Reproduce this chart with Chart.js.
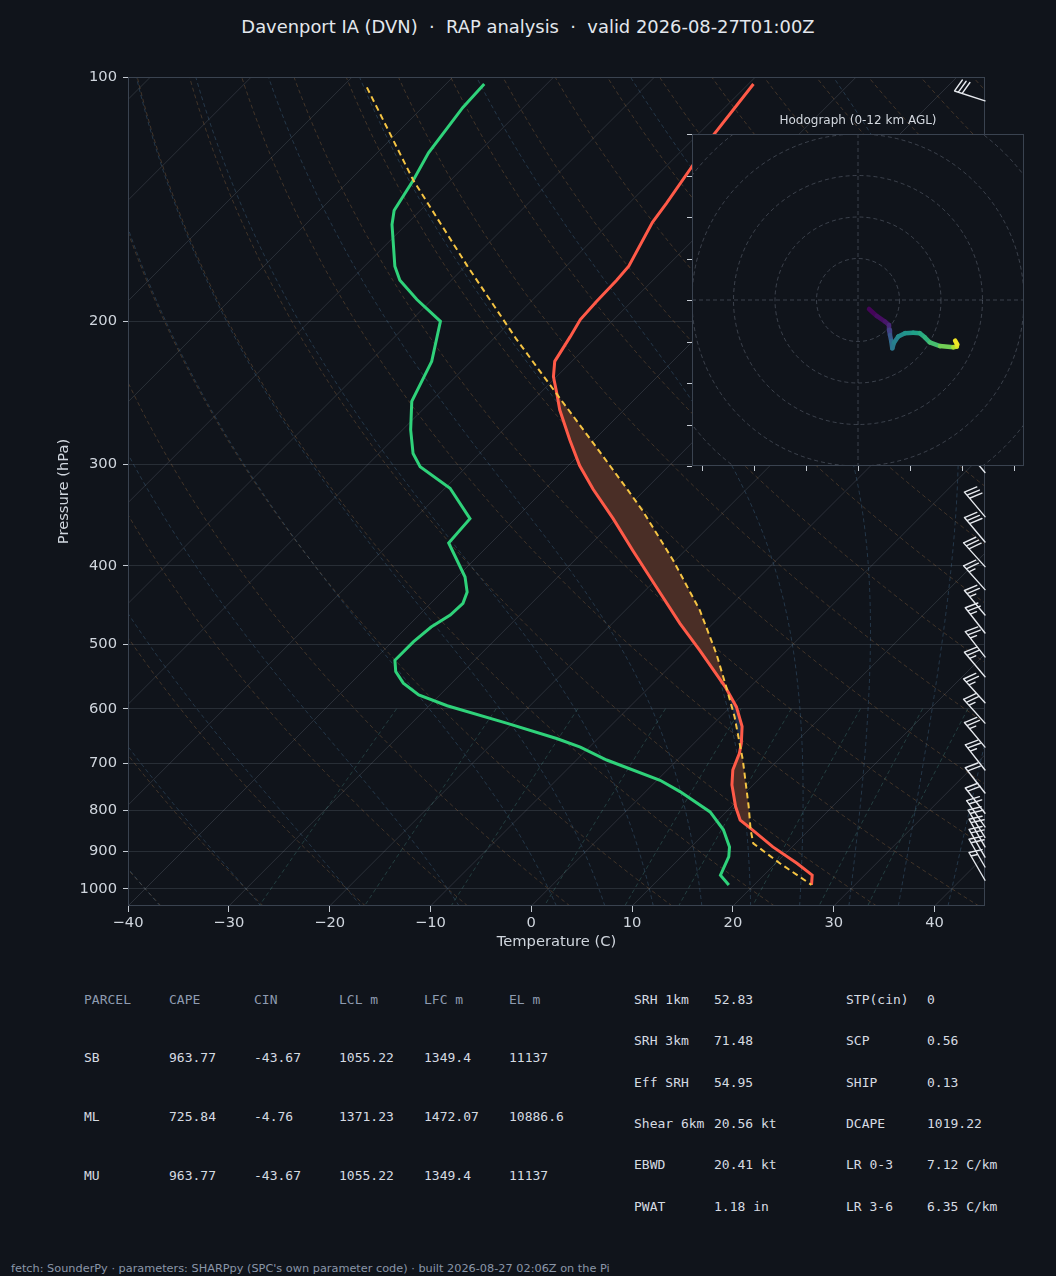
<!DOCTYPE html>
<html><head><meta charset="utf-8">
<script src="https://cdn.jsdelivr.net/npm/chart.js@4.4.1/dist/chart.umd.min.js"></script>
<style>
html,body{margin:0;padding:0;background:#10141b;}
body{width:1056px;height:1276px;position:relative;overflow:hidden;font-family:'DejaVu Sans',sans-serif;}
#title{position:absolute;left:0;width:1056px;top:16px;text-align:center;color:#e3e7ed;font-size:17.9px;white-space:pre;line-height:22px}
#main{position:absolute;left:0;top:0;width:1056px;height:960px}
#hodo{position:absolute;left:680px;top:125px;width:356px;height:355px}
#hodoTitle{position:absolute;left:758px;width:200px;top:112px;text-align:center;color:#d3d8df;font-size:12px;line-height:16px}
.t{position:absolute;font-family:'DejaVu Sans Mono',monospace;font-size:13px;line-height:16px;white-space:pre;color:#d6dbe2}
.h{color:#8e9bb0}
#footer{position:absolute;left:11px;top:1262px;font-size:11.3px;line-height:14px;color:#8a96a8;white-space:pre}
</style></head>
<body>
<div id="title">Davenport IA (DVN)  ·  RAP analysis  ·  valid 2026-08-27T01:00Z</div>
<canvas id="main" width="1056" height="960"></canvas>
<div id="hodoTitle">Hodograph (0-12 km AGL)</div>
<canvas id="hodo" width="356" height="355"></canvas>
<div id="tables"></div>
<div id="footer">fetch: SounderPy · parameters: SHARPpy (SPC's own parameter code) · built 2026-08-27 02:06Z on the Pi</div>
<script>
// ---------------- data ----------------
const tempP = [102,118,129,143,151,171,178,189,199,209,224,234,246,257,280,301,322,350,383,420,471,508,564,597,631,662,681,714,745,792,823,842,888,930,962,989];
const tempC = [-59.5,-58.4,-57.4,-56.3,-55.8,-53.8,-53.6,-53.5,-53.3,-52.6,-51.7,-50.3,-48.2,-46.4,-42.4,-38.9,-35.2,-30.3,-25.2,-19.9,-13.3,-8.7,-2.5,0.6,3.1,4.7,5.5,6.5,7.9,10.4,12.2,14.0,18.1,22.1,24.8,25.7];
const dewP = [102,109,124,134,146,152,171,178,188,200,224,251,272,291,302,321,350,375,413,431,445,460,476,496,523,540,558,577,595,625,653,669,694,735,759,804,846,888,913,962,989];
const dewC = [-86.2,-86.0,-84.9,-83.7,-82.6,-81.4,-77.0,-75.1,-71.5,-67.0,-63.9,-61.9,-59.2,-56.6,-54.6,-49.5,-44.5,-44.2,-39.2,-37.5,-36.8,-36.9,-37.6,-37.9,-37.9,-36.7,-34.8,-32.1,-28.2,-20.6,-14.1,-10.9,-7.0,0.3,3.4,8.4,11.5,13.8,14.7,15.7,17.5];
const parcelP = [103,134,171,210,244,280,321,342,394,454,513,564,614,694,792,846,879,930,989];
const parcelC = [-97.5,-83.7,-69.8,-57.8,-48.7,-40.3,-32.0,-28.2,-20.2,-12.6,-6.7,-2.4,1.4,6.5,11.7,14.2,15.8,20.4,25.7];
const lfcP = 842, elP = 244;
const windP   = [107,307,348,374,401,428,460,484,518,548,590,625,669,714,762,807,839,864,888,914,940,976];
const windKt  = [30,30,30,30,30,25,25,25,25,25,25,25,25,25,20,20,20,20,20,20,20,15];
const windDir = [288,320,320,320,318,318,320,322,322,320,318,318,320,322,322,322,325,328,330,330,330,330];
const hodoU = [2.65,4.5,6.5,7.47,7.47,7.7,8.0,8.27,8.67,9.7,11.3,13.3,14.9,16.1,17.3,19.75,22.97,23.8,23.9,23.4];
const hodoV = [-2.17,-3.85,-5.2,-6.0,-7.2,-8.4,-9.8,-11.64,-10.28,-8.8,-8.0,-7.87,-8.0,-9.0,-10.2,-11.1,-11.4,-11.2,-10.7,-9.8];
const hodoZ = [0,0.3,0.6,0.9,1.8,2.8,3.7,4.6,5.0,5.5,6.0,6.5,7.0,7.5,8.0,8.8,10.0,11.0,11.5,12.0];
const xTicks = [-40,-30,-20,-10,0,10,20,30,40];
const pTicks = [100,200,300,400,500,600,700,800,900,1000];
const hodoXTicks = [-37.5,-25,-12.5,0,12.5,25,37.5];
const hodoYTicks = [-40,-30,-20,-10,0,10,20,30,40];
const hodoRings = [10,20,30,40,50,60];
const tblHead = ['PARCEL','CAPE','CIN','LCL m','LFC m','EL m'];
const tblParcel = ['SB','ML','MU'];
const tblCape = ['963.77','725.84','963.77'];
const tblCin = ['-43.67','-4.76','-43.67'];
const tblLcl = ['1055.22','1371.23','1055.22'];
const tblLfc = ['1349.4','1472.07','1349.4'];
const tblEl = ['11137','10886.6','11137'];
const idxLab1 = ['SRH 1km','SRH 3km','Eff SRH','Shear 6km','EBWD','PWAT'];
const idxVal1 = ['52.83','71.48','54.95','20.56 kt','20.41 kt','1.18 in'];
const idxLab2 = ['STP(cin)','SCP','SHIP','DCAPE','LR 0-3','LR 3-6'];
const idxVal2 = ['0','0.56','0.13','1019.22','7.12 C/km','6.35 C/km'];
// background thermodynamic reference lines
const dryTheta = []; for (let t=-40;t<=240;t+=10) dryTheta.push(t);
const moistT0 = [-40,-30,-20,-10,0,5,10,15,20,25,30,35,40,45];
const mixW = [0.0004,0.001,0.002,0.004,0.007,0.01,0.016,0.024,0.032];

// ---------------- helpers ----------------
const K = 34.97;                       // skew: 45 degrees on screen
const skewX = (t,p) => t + K*Math.log(1050/p);
const BG = '#10141b';
function interp(P,V,p){
  for(let i=0;i<P.length-1;i++){
    if(p>=P[i] && p<=P[i+1]){const f=(Math.log(p)-Math.log(P[i]))/(Math.log(P[i+1])-Math.log(P[i]));return V[i]+f*(V[i+1]-V[i]);}
  }
  return p<P[0]?V[0]:V[V.length-1];
}
const Rd=287.04, Cp=1005.7, Lv=2.501e6, EPS=0.622;
const es = T => 6.112*Math.exp(17.67*(T-273.15)/(T-29.65));
function dTdp(p,T){const e=es(T);const rs=EPS*e/(p-e);return (Rd*T+Lv*rs)/(Cp+Lv*Lv*rs*EPS/(Rd*T*T))/p;}
function moistLine(t0){
  const step=5;
  let T=t0+273.15, p=1000; const up=[[t0,1000]];
  while(p>100){const h=-Math.min(step,p-100);const k1=dTdp(p,T),k2=dTdp(p+h/2,T+h/2*k1),k3=dTdp(p+h/2,T+h/2*k2),k4=dTdp(p+h,T+h*k3);T+=h/6*(k1+2*k2+2*k3+k4);p+=h;up.push([T-273.15,p]);}
  T=t0+273.15;p=1000;const down=[];
  while(p<1050){const h=Math.min(step,1050-p);const k1=dTdp(p,T),k2=dTdp(p+h/2,T+h/2*k1),k3=dTdp(p+h/2,T+h/2*k2),k4=dTdp(p+h,T+h*k3);T+=h/6*(k1+2*k2+2*k3+k4);p+=h;down.push([T-273.15,p]);}
  return down.reverse().concat(up);
}
const pGrid=[];for(let i=0;i<=80;i++)pGrid.push(1050*Math.pow(100/1050,i/80));

const skewBg = {
  id:'skewBg',
  beforeDatasetsDraw(chart){
    const {ctx, chartArea:a, scales:{x,y}} = chart;
    ctx.save();
    ctx.beginPath();ctx.rect(a.left,a.top,a.right-a.left,a.bottom-a.top);ctx.clip();
    const line=(pts,color,dash,w)=>{ctx.beginPath();pts.forEach(([t,p],i)=>{const px=x.getPixelForValue(skewX(t,p)),py=y.getPixelForValue(p);i?ctx.lineTo(px,py):ctx.moveTo(px,py);});ctx.strokeStyle=color;ctx.setLineDash(dash);ctx.lineWidth=w;ctx.stroke();};
    for(let t=-140;t<=40;t+=10) line([[t,1050],[t,100]],'rgba(140,150,165,0.22)',[],1);
    dryTheta.forEach(th=>line(pGrid.map(p=>[(th+273.15)*Math.pow(p/1000,0.2857)-273.15,p]),'rgba(170,120,70,0.32)',[4,3],1));
    moistT0.forEach(t0=>line(moistLine(t0),'rgba(80,130,170,0.32)',[4,3],1));
    const mp=[];for(let i=0;i<=20;i++)mp.push(600+i*22.5);
    mixW.forEach(w=>line(mp.map(p=>{const e=w*p/(EPS+w);const l=Math.log(e/6.112);return [243.5*l/(17.67-l),p];}),'rgba(80,160,150,0.3)',[4,3],1));
    // CAPE / CIN shading
    const ps=[...new Set([elP,lfcP,...tempP,...parcelP].filter(p=>p>=elP&&p<=lfcP))].sort((m,n)=>m-n);
    const pts=ps.map(p=>({p,t:interp(tempP,tempC,p),q:interp(parcelP,parcelC,p)}));
    const runs=[];let cur=[pts[0]];
    for(let i=1;i<pts.length;i++){const A=pts[i-1],B=pts[i];const da=A.q-A.t,db=B.q-B.t;
      if(da*db<0){const f=da/(da-db);const pc=Math.exp(Math.log(A.p)+f*(Math.log(B.p)-Math.log(A.p)));const tc=A.t+f*(B.t-A.t);const c={p:pc,t:tc,q:tc};cur.push(c);runs.push(cur);cur=[c];}
      cur.push(B);}
    runs.push(cur);
    ctx.setLineDash([]);
    runs.forEach(r=>{let s=0;r.forEach(o=>s+=o.q-o.t);
      ctx.beginPath();
      r.forEach((o,i)=>{const px=x.getPixelForValue(skewX(o.q,o.p)),py=y.getPixelForValue(o.p);i?ctx.lineTo(px,py):ctx.moveTo(px,py);});
      for(let i=r.length-1;i>=0;i--){const o=r[i];ctx.lineTo(x.getPixelForValue(skewX(o.t,o.p)),y.getPixelForValue(o.p));}
      ctx.closePath();ctx.fillStyle=s>0?'#4a2e26':'#1c2c46';ctx.fill();});
    ctx.restore();
  },
  afterDatasetsDraw(chart){
    const {ctx, chartArea:a, scales:{x,y}} = chart;
    ctx.save();
    ctx.strokeStyle='#3a4350';ctx.lineWidth=1;ctx.setLineDash([]);
    ctx.strokeRect(a.left+0.5,a.top+0.5,a.right-a.left-1,a.bottom-a.top-1);
    // wind barbs
    ctx.strokeStyle='#e6e9ee';ctx.lineWidth=1.4;ctx.lineCap='round';
    const x0=x.getPixelForValue(45);
    windP.forEach((p,i)=>{
      const y0=y.getPixelForValue(p);const L=32,H=0.4*L,W=0.25*L,S=0.125*L;
      const th=windDir[i]*Math.PI/180;const ux=Math.sin(th),uy=-Math.cos(th);const nx=-uy,ny=ux;
      let r=Math.round(windKt[i]/5)*5;const full=Math.floor(r/10);const half=(r-full*10)>=5;
      ctx.beginPath();ctx.moveTo(x0,y0);ctx.lineTo(x0+ux*L,y0+uy*L);
      let off=L;
      for(let k=0;k<full;k++){const bx=x0+ux*off,by=y0+uy*off;ctx.moveTo(bx,by);ctx.lineTo(bx+nx*H-ux*W/2,by+ny*H-uy*W/2);off-=S;}
      if(half){if(full===0)off-=S;const bx=x0+ux*off,by=y0+uy*off;ctx.moveTo(bx,by);ctx.lineTo(bx+nx*H/2-ux*W/4,by+ny*H/2-uy*W/4);}
      ctx.stroke();
    });
    ctx.restore();
  }
};

const tickFont={family:'DejaVu Sans',size:14.7};
new Chart(document.getElementById('main'),{
  type:'scatter',
  data:{datasets:[
    {data:parcelP.map((p,i)=>({x:skewX(parcelC[i],p),y:p})),showLine:true,borderColor:'#f5c443',borderWidth:2,borderDash:[6,4],pointRadius:0},
    {data:dewP.map((p,i)=>({x:skewX(dewC[i],p),y:p})),showLine:true,borderColor:'#2fd27a',borderWidth:3,pointRadius:0},
    {data:tempP.map((p,i)=>({x:skewX(tempC[i],p),y:p})),showLine:true,borderColor:'#ff5a48',borderWidth:3,pointRadius:0}
  ]},
  options:{
    responsive:false,animation:false,
    layout:{padding:{left:0,top:77,right:71,bottom:0}},
    plugins:{legend:{display:false},tooltip:{enabled:false}},
    scales:{
      x:{type:'linear',min:-40,max:45,position:'bottom',
        afterBuildTicks:s=>{s.ticks=xTicks.map(v=>({value:v}));},
        afterFit:s=>{s.height=54;},
        ticks:{color:'#d0d6de',font:tickFont,padding:2,autoSkip:false,maxRotation:0,callback:v=>String(v).replace('-','\u2212')},
        grid:{drawOnChartArea:false,drawTicks:true,tickLength:6,tickColor:'#c5cbd3'},
        border:{display:false},
        title:{display:true,text:'Temperature (C)',color:'#d0d6de',font:tickFont,padding:{top:0,bottom:9}}},
      y:{type:'logarithmic',min:100,max:1050,reverse:true,position:'left',
        afterBuildTicks:s=>{s.ticks=pTicks.map(v=>({value:v}));},
        afterFit:s=>{s.width=128;},
        ticks:{color:'#d0d6de',font:tickFont,padding:6,autoSkip:false,callback:v=>String(v)},
        grid:{color:'rgba(140,150,165,0.2)',drawTicks:true,tickLength:5,tickColor:'#c5cbd3'},
        border:{display:false},
        title:{display:true,text:'Pressure (hPa)',color:'#d0d6de',font:tickFont,padding:{top:55,bottom:0}}}
    }
  },
  plugins:[skewBg]
});

// ---------------- hodograph ----------------
const VIR=['#440154','#482878','#3e4a89','#31688e','#26828e','#1f9e89','#35b779','#6ece58','#b5de2b','#fde725'];
function viridis(f){f=Math.max(0,Math.min(1,f));const s=f*(VIR.length-1);const i=Math.min(Math.floor(s),VIR.length-2);const r=s-i;
  const h=c=>[parseInt(c.substr(1,2),16),parseInt(c.substr(3,2),16),parseInt(c.substr(5,2),16)];
  const a=h(VIR[i]),b=h(VIR[i+1]);return 'rgb('+a.map((v,k)=>Math.round(v+(b[k]-v)*r)).join(',')+')';}
const hodoPlug={
  id:'hodoDeco',
  beforeDatasetsDraw(chart){
    const {ctx,chartArea:a,scales:{x,y}}=chart;
    ctx.save();
    ctx.fillStyle=BG;ctx.fillRect(a.left,a.top,a.right-a.left,a.bottom-a.top);
    ctx.beginPath();ctx.rect(a.left,a.top,a.right-a.left,a.bottom-a.top);ctx.clip();
    ctx.strokeStyle='rgba(140,150,165,0.35)';ctx.lineWidth=1;ctx.setLineDash([4,3]);
    const cx=x.getPixelForValue(0),cy=y.getPixelForValue(0);
    hodoRings.forEach(r=>{ctx.beginPath();ctx.arc(cx,cy,x.getPixelForValue(r)-cx,0,Math.PI*2);ctx.stroke();});
    ctx.beginPath();ctx.moveTo(a.left,cy);ctx.lineTo(a.right,cy);ctx.moveTo(cx,a.top);ctx.lineTo(cx,a.bottom);ctx.stroke();
    ctx.restore();
  },
  afterDraw(chart){
    const {ctx,chartArea:a,scales:{x,y}}=chart;
    ctx.save();ctx.setLineDash([]);
    ctx.strokeStyle='#3a4350';ctx.lineWidth=1;ctx.strokeRect(a.left+0.5,a.top+0.5,a.right-a.left-1,a.bottom-a.top-1);
    ctx.strokeStyle='#c5cbd3';ctx.beginPath();
    hodoYTicks.forEach(v=>{const py=Math.round(y.getPixelForValue(v))+0.5;ctx.moveTo(a.left-5,py);ctx.lineTo(a.left,py);});
    hodoXTicks.forEach(v=>{const px=Math.round(x.getPixelForValue(v))+0.5;ctx.moveTo(px,a.bottom);ctx.lineTo(px,a.bottom+5);});
    ctx.stroke();ctx.restore();
  }
};
new Chart(document.getElementById('hodo'),{
  type:'scatter',
  data:{datasets:[{data:hodoU.map((u,i)=>({x:u,y:hodoV[i]})),showLine:true,pointRadius:0,borderWidth:4.5,
    borderCapStyle:'round',borderJoinStyle:'round',borderColor:'#21918c',
    segment:{borderColor:c=>viridis((hodoZ[c.p0DataIndex]+hodoZ[c.p1DataIndex])/24)}}]},
  options:{responsive:false,animation:false,
    layout:{padding:{left:12,top:9,right:12,bottom:14}},
    plugins:{legend:{display:false},tooltip:{enabled:false}},
    scales:{x:{type:'linear',min:-40,max:40,display:false},y:{type:'linear',min:-40,max:40,display:false}}},
  plugins:[hodoPlug]
});

// ---------------- tables ----------------
const T=document.getElementById('tables');
function put(txt,x,yc,cls){const d=document.createElement('div');d.className='t'+(cls?' '+cls:'');d.textContent=txt;d.style.left=x+'px';d.style.top=(yc-8)+'px';T.appendChild(d);}
const colX=[84,169,254,339,424,509];
tblHead.forEach((h,i)=>put(h,colX[i],1000,'h'));
const rowY=[1058,1117,1176];
tblParcel.forEach((p,r)=>{[p,tblCape[r],tblCin[r],tblLcl[r],tblLfc[r],tblEl[r]].forEach((v,i)=>put(v,colX[i],rowY[r]));});
const ry=[1000,1041,1083,1124,1165,1207];
idxLab1.forEach((l,i)=>{put(l,634,ry[i]);put(idxVal1[i],714,ry[i]);put(idxLab2[i],846,ry[i]);put(idxVal2[i],927,ry[i]);});
</script>
</body></html>
